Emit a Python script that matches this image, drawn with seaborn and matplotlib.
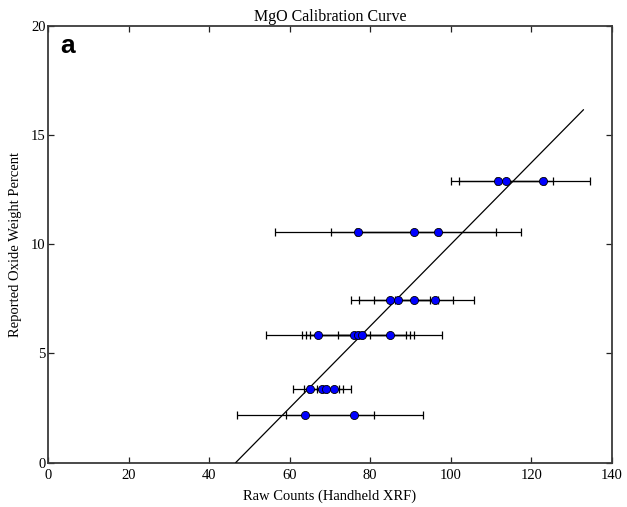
import pandas as pd
import matplotlib
matplotlib.use('Agg')
import matplotlib.pyplot as plt
import seaborn as sns

# Calibration data: raw counts, reported wt%, count error
raw_counts = [111.7, 113.8, 122.9,
              76.9, 90.8, 96.9,
              85.0, 87.0, 90.8, 96.0,
              67.0, 76.0, 76.9, 77.9, 85.0,
              65.0, 67.9, 68.9, 71.0,
              63.9, 76.0]
oxide_wt = [12.9, 12.9, 12.9,
            10.55, 10.55, 10.55,
            7.46, 7.46, 7.46, 7.46,
            5.84, 5.84, 5.84, 5.84, 5.84,
            3.38, 3.38, 3.38, 3.38,
            2.17, 2.17]
count_err = [11.7, 11.7, 11.7,
             20.5, 20.5, 20.5,
             9.85, 9.85, 9.85, 9.85,
             12.9, 12.9, 12.9, 12.9, 12.9,
             4.3, 4.3, 4.3, 4.3,
             17.0, 17.0]

# fitted calibration line end points
fit_x = [46.6, 133.0]
fit_y = [0.0, 16.15]

df = pd.DataFrame({'counts': raw_counts, 'wt': oxide_wt, 'err': count_err})
fit = pd.DataFrame({'counts': fit_x, 'wt': fit_y})

sns.set_style('ticks')
plt.rcParams['font.family'] = ['Liberation Serif', 'DejaVu Serif']
plt.rcParams['text.color'] = 'black'
plt.rcParams['axes.labelcolor'] = 'black'
plt.rcParams['xtick.color'] = 'black'
plt.rcParams['ytick.color'] = 'black'

fig = plt.figure(figsize=(6.27, 5.07), dpi=100)
ax = fig.add_axes([0.0769, 0.0877, 0.8987, 0.8619])

# error bars
ax.errorbar(df['counts'], df['wt'], xerr=df['err'], fmt='none',
            ecolor='black', elinewidth=0.9, capsize=2.7, capthick=0.9, zorder=2)

# fit line
sns.lineplot(data=fit, x='counts', y='wt', color='black', linewidth=0.9,
             ax=ax, zorder=3)

# points
sns.scatterplot(data=df, x='counts', y='wt', color='#0000ff', edgecolor='black',
                linewidth=0.6, s=34, ax=ax, zorder=4)

ax.set_xlim(0, 140)
ax.set_ylim(0, 20)
ax.set_xticks(range(0, 141, 20))
ax.set_yticks(range(0, 21, 5))
ax.tick_params(direction='in', top=True, right=True, length=4, width=0.9,
               labelsize=10.5, color='#222222')
ax.tick_params(axis='x', pad=5)
ax.tick_params(axis='y', pad=2)

for sp in ax.spines.values():
    sp.set_visible(True)
    sp.set_color('#3a3a3a')
    sp.set_linewidth(1.3)

ax.set_title('MgO Calibration Curve', fontsize=11.5, pad=3)
ax.set_xlabel('Raw Counts (Handheld XRF)', fontsize=10.5, labelpad=5)
ax.set_ylabel('Reported Oxide Weight Percent', fontsize=10.5, labelpad=6)
ax.text(0.022, 0.938, 'a', transform=ax.transAxes, fontsize=19,
        fontweight='bold', family=['Liberation Sans', 'DejaVu Sans'],
        va='baseline', ha='left')

fig.savefig('out.png', dpi=100)
